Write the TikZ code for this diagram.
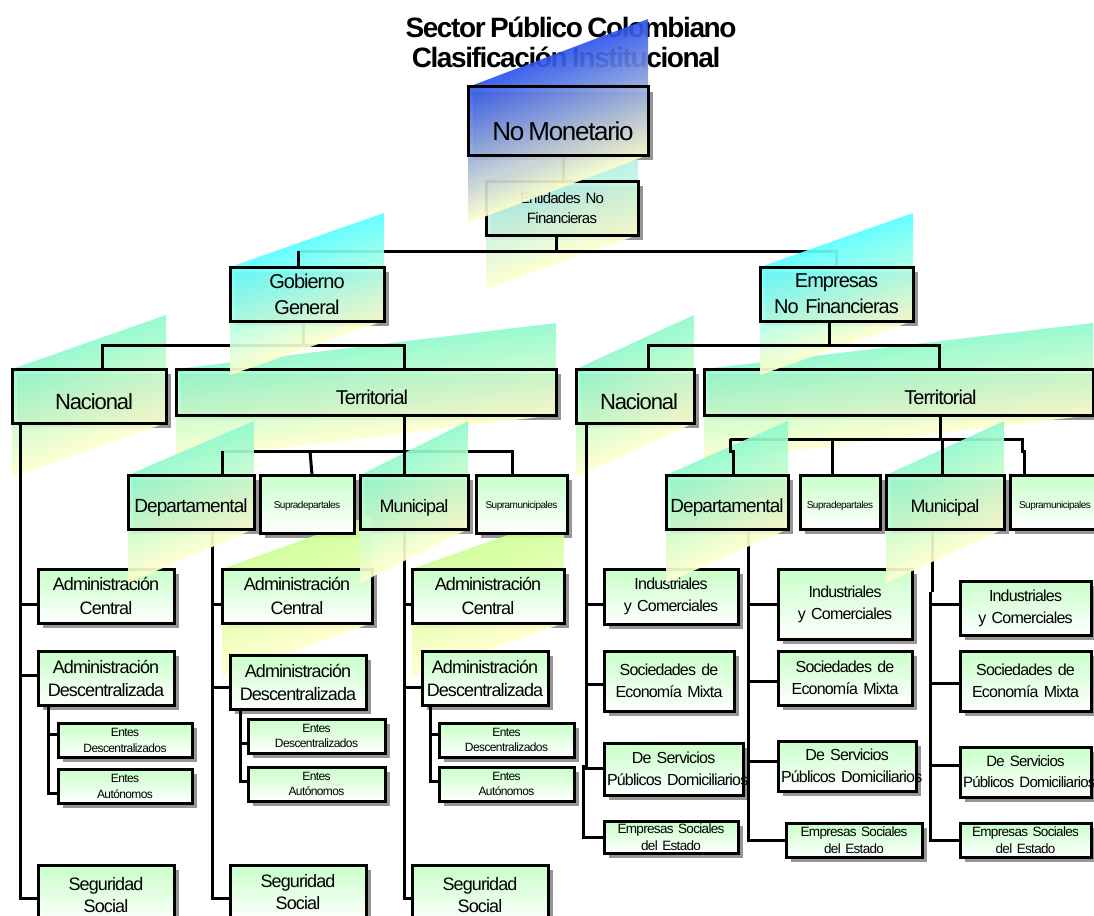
\documentclass[tikz,border=0pt]{standalone}
\usepackage{fontspec}
\setmainfont{Liberation Sans}[LetterSpace=-5,WordSpace=0.7]
\hyphenpenalty=10000
\exhyphenpenalty=10000

\definecolor{blueA}{RGB}{45,85,235}
\definecolor{paleY}{RGB}{255,255,205}
\definecolor{cyanA}{RGB}{90,255,255}
\definecolor{mintA}{RGB}{145,250,205}
\definecolor{limeA}{RGB}{205,255,150}
\definecolor{entA}{RGB}{150,235,240}
\definecolor{boxG}{RGB}{200,255,200}
\definecolor{shadowG}{RGB}{150,150,150}

\pgfdeclarelayer{bg}
\pgfdeclarelayer{low}
\pgfdeclarelayer{shadow}
\pgfdeclarelayer{para}
\pgfdeclarelayer{conn}
\pgfdeclarelayer{para2}
\pgfdeclarelayer{top}
\pgfsetlayers{bg,low,shadow,para,conn,main,para2,top}

\tikzset{
  frame/.style={draw=black, line width=3pt, line join=miter, inner sep=0pt,
    outer sep=0pt, align=center, text=black},
  openbox/.style={frame},
  lightbox/.style={frame, top color=boxG, bottom color=white},
  fs/.style 2 args={font=\fontsize{#1}{#2}\selectfont},
  lowtext/.style={text height=#1, text depth=0pt},
  wire/.style={draw=black, line width=3pt, line join=miter},
}

% box given by its corners (x0,y0) and (x1,y1)
\newcommand\orgbox[7]{%
  \node[#2, minimum width={#5-#3}, minimum height={#6-#4}, text width={#5-#3-6}]
    (#1) at ({(#3+#5)/2},{(#4+#6)/2}) {#7};}

% sheared gradient band behind a box: x0, y0 (top), x1, y1 (bottom), colours
\newcommand\gradpara[6]{%
  \pgfmathsetmacro\gpH{#4-#2}%
  \pgfmathsetmacro\gpK{\gpH/(#3-#1)}%
  \pgfmathsetmacro\gpS{-\gpK*#1}%
  \shade[transform canvas={cm={1,\gpK,0,1,(0pt,\gpS pt)}}, top color=#5,
    bottom color=#6, fill opacity=0.92] (#1,#2) rectangle (#3,{#2+2*\gpH});}

\begin{document}
\begin{tikzpicture}[x=1pt,y=-1pt]
\useasboundingbox (0,0) rectangle (1094,915);

% ---------- title ----------
\begin{pgfonlayer}{bg}
\node[anchor=base, font=\fontsize{28}{30}\selectfont\bfseries] (title1) at (571,38) {Sector Público Colombiano};
\node[anchor=base, font=\fontsize{28}{30}\selectfont\bfseries] (title2) at (566,68) {Clasificación Institucional};
\end{pgfonlayer}

% ---------- Entidades No Financieras ----------
\begin{pgfonlayer}{low}
\fill[shadowG] (491,186) rectangle (643,240);
\gradpara{486}{181}{638}{235}{entA}{paleY}
\orgbox{Ent}{openbox,fs={15}{20}}{486}{181}{638}{235}{\mbox{Entidades No}\\Financieras}
\end{pgfonlayer}

% ---------- boxes with a band in front of the lower row ----------
\begin{pgfonlayer}{top}
\node[openbox, fs={26}{30}, minimum width=180, minimum height=68, lowtext=38pt] (NoMon) at (558,121) {\hspace*{10pt}No Monetario};
\orgbox{Gob}{openbox,fs={20}{26}}{230}{267}{384}{321}{Gobierno\\General}
\orgbox{Emp}{openbox,fs={20}{26}}{760}{267}{913}{321}{Empresas\\\mbox{No Financieras}}
\orgbox{DepL}{openbox,fs={19}{24},lowtext=20pt}{128}{475}{254}{529}{Departamental}
\orgbox{MunL}{openbox,fs={18}{24},lowtext=20pt}{360}{475}{468}{529}{Municipal}
\orgbox{DepR}{openbox,fs={19}{24},lowtext=20pt}{666}{475}{788}{529}{Departamental}
\orgbox{MunR}{openbox,fs={18}{24},lowtext=20pt}{886}{475}{1004}{529}{Municipal}
\end{pgfonlayer}

% ---------- second level ----------
\orgbox{NacL}{openbox,fs={22}{26},lowtext=26pt}{12}{369}{166}{423}{\hspace*{10pt}Nacional}
\node[openbox, fs={20}{24}, minimum width=380, minimum height=46, lowtext=24pt] (TerL) at (366,392) {\hspace*{12pt}Territorial};
\orgbox{NacR}{openbox,fs={22}{26},lowtext=26pt}{576}{369}{694}{423}{\hspace*{8pt}Nacional}
\node[openbox, fs={20}{24}, minimum width=389, minimum height=46, lowtext=24pt] (TerR) at (898.5,392) {\hspace*{84pt}Territorial};

\orgbox{SupDL}{lightbox,fs={10}{12},lowtext=8pt}{260}{475}{354}{533}{Supradepartales}
\orgbox{SupML}{lightbox,fs={10}{12},lowtext=8pt}{476}{475}{567}{533}{Supramunicipales}
\orgbox{SupDR}{lightbox,fs={10}{12},lowtext=12pt}{800}{475}{880}{529}{Supradepartales}
\orgbox{SupMR}{lightbox,fs={10}{12},lowtext=12pt}{1010}{475}{1100}{529}{Supramunicipales}

% ---------- Gobierno General: lower boxes ----------
\orgbox{ACL}{lightbox,fs={18}{24}}{38}{569}{174}{623}{Administración\\Central}
\orgbox{ADL}{lightbox,fs={18}{23}}{38}{651}{174}{705}{Administración\\Descentralizada}
\orgbox{EDL}{lightbox,fs={12}{16}}{58}{723}{192}{757}{Entes\\Descentralizados}
\orgbox{EAL}{lightbox,fs={12}{16}}{58}{769}{192}{803}{Entes\\Autónomos}
\orgbox{SSL}{lightbox,fs={18}{22}}{38}{865}{174}{925}{Seguridad\\Social}

\orgbox{ACM}{lightbox,fs={18}{24}}{222}{569}{372}{623}{Administración\\Central}
\orgbox{ADM}{lightbox,fs={18}{23}}{230}{655}{366}{709}{Administración\\Descentralizada}
\orgbox{EDM}{lightbox,fs={12}{15}}{248}{719}{385}{753}{Entes\\Descentralizados}
\orgbox{EAM}{lightbox,fs={12}{15}}{248}{767}{385}{801}{Entes\\Autónomos}
\orgbox{SSM}{lightbox,fs={18}{22}}{230}{865}{366}{920}{Seguridad\\Social}

\orgbox{ACR}{lightbox,fs={18}{24}}{412}{569}{564}{623}{Administración\\Central}
\orgbox{ADR}{lightbox,fs={18}{23}}{422}{651}{548}{705}{Administración\\Descentralizada}
\orgbox{EDR}{lightbox,fs={12}{15}}{439}{723}{574}{757}{Entes\\Descentralizados}
\orgbox{EAR}{lightbox,fs={12}{15}}{439}{767}{574}{801}{Entes\\Autónomos}
\orgbox{SSR}{lightbox,fs={18}{22}}{412}{865}{548}{925}{Seguridad\\Social}

% ---------- Empresas No Financieras: lower boxes ----------
\orgbox{IL}{lightbox,fs={16}{22}}{604}{569}{738}{624}{Industriales\\\mbox{y Comerciales}}
\orgbox{SL}{lightbox,fs={16}{22}}{604}{651}{734}{711}{\mbox{Sociedades de}\\\mbox{Economía Mixta}}
\orgbox{DL}{lightbox,fs={16}{22}}{604}{743}{743}{795}{\mbox{De Servicios}\\\mbox{Públicos Domiciliarios}}
\orgbox{EL}{lightbox,fs={13.5}{17}}{604}{821}{738}{853}{\mbox{Empresas Sociales}\\\mbox{del Estado}}

\orgbox{IM}{lightbox,fs={16}{22}}{778}{569}{912}{639}{Industriales\\\mbox{y Comerciales}}
\orgbox{SM}{lightbox,fs={16}{22}}{778}{651}{912}{705}{\mbox{Sociedades de}\\\mbox{Economía Mixta}}
\orgbox{DM}{lightbox,fs={16}{22}}{778}{741}{916}{791}{\mbox{De Servicios}\\\mbox{Públicos Domiciliarios}}
\orgbox{EM}{lightbox,fs={13.5}{17}}{786}{823}{922}{857}{\mbox{Empresas Sociales}\\\mbox{del Estado}}

\orgbox{IR}{lightbox,fs={16}{22}}{960}{581}{1091}{635}{Industriales\\\mbox{y Comerciales}}
\orgbox{SR}{lightbox,fs={16}{22}}{960}{651}{1091}{711}{\mbox{Sociedades de}\\\mbox{Economía Mixta}}
\orgbox{DR}{lightbox,fs={15}{21}}{960}{747}{1091}{797}{\mbox{De Servicios}\\\mbox{Públicos Domiciliarios}}
\orgbox{ER}{lightbox,fs={13.5}{17}}{960}{823}{1091}{857}{\mbox{Empresas Sociales}\\\mbox{del Estado}}

% ---------- shadows ----------
\begin{pgfonlayer}{shadow}
\foreach \n in {NoMon,Gob,Emp,NacL,TerL,NacR,TerR,DepL,SupDL,MunL,SupML,DepR,SupDR,MunR,SupMR,
  ACL,ADL,EDL,EAL,SSL,ACM,ADM,EDM,EAM,SSM,ACR,ADR,EDR,EAR,SSR,IL,SL,DL,EL,IM,SM,DM,EM,IR,SR,DR,ER}
  \fill[shadowG] ([shift={(5,5)}]\n.north west) rectangle ([shift={(5,5)}]\n.south east);
\end{pgfonlayer}

% ---------- connector points ----------
\coordinate (nm) at (563,170);
\coordinate (bE) at (556,251);
\coordinate (bL) at (298,251);
\coordinate (bR) at (836,251);
\coordinate (gM) at (303,345);
\coordinate (gL) at (102,345);
\coordinate (gR) at (404,345);
\coordinate (xM) at (829,345);
\coordinate (xL) at (648,345);
\coordinate (xR) at (939,345);
\coordinate (tL) at (222,451);
\coordinate (tM) at (404,451);
\coordinate (tR) at (512,451);
\coordinate (tS) at (310,451);
\coordinate (tS2) at (312,470);
\coordinate (uL) at (730,439);
\coordinate (uL2) at (730,451);
\coordinate (uL3) at (733,451);
\coordinate (uM) at (940,439);
\coordinate (uN) at (942,439);
\coordinate (uS) at (832,439);
\coordinate (uR) at (1022,439);
\coordinate (uR2) at (1022,451);
\coordinate (uR3) at (1024,451);

% ---------- connectors ----------
\begin{pgfonlayer}{conn}
\draw[wire] (nm |- NoMon.south) -- (nm |- Ent.north);
\draw[wire] (bE |- Ent.south) -- (bE);
\draw[wire] (bL) -- (bR) -- (bR |- Emp.north);
\draw[wire] (gM |- Gob.south) -- (gM);
\draw[wire] (gL |- NacL.north) -- (gL) -- (gR) -- (gR |- TerL.north);
\draw[wire] (tM |- TerL.south) -- (tM);
\draw[wire] (tL) -- (tR) -- (tR |- SupML.north);
\draw[wire] (tS) -- (tS2 |- SupDL.north);
\draw[wire] (uM |- TerR.south) -- (uM);
\draw[wire] (uL) -- (uR) -- (uR2) -- (uR3) -- (uR3 |- SupMR.north);
\draw[wire] (uS) -- (uS |- SupDR.north);

% Gobierno General, Nacional
\coordinate (a1) at (20,604); \coordinate (a2) at (20,675); \coordinate (a3) at (20,898);
\coordinate (a4) at (48,734); \coordinate (a5) at (48,793);
\draw[wire] (a1 |- NacL.south) -- (a3) -- (a3 -| SSL.west);
\draw[wire] (a1) -- (a1 -| ACL.west);
\draw[wire] (a2) -- (a2 -| ADL.west);
\draw[wire] (a4 |- ADL.south) -- (a5) -- (a5 -| EAL.west);
\draw[wire] (a4) -- (a4 -| EDL.west);

% Gobierno General, Departamental
\coordinate (c1) at (212,604); \coordinate (c2) at (212,687); \coordinate (c3) at (212,898);
\coordinate (c4) at (240,743); \coordinate (c5) at (240,781);
\draw[wire] (c1 |- DepL.south) -- (c3) -- (c3 -| SSM.west);
\draw[wire] (c1) -- (c1 -| ACM.west);
\draw[wire] (c2) -- (c2 -| ADM.west);
\draw[wire] (c4 |- ADM.south) -- (c5) -- (c5 -| EAM.west);
\draw[wire] (c4) -- (c4 -| EDM.west);

% Gobierno General, Municipal
\coordinate (d1) at (404,604); \coordinate (d2) at (404,687); \coordinate (d3) at (404,898);
\coordinate (d4) at (430,734); \coordinate (d5) at (430,781);
\draw[wire] (d1 |- MunL.south) -- (d3) -- (d3 -| SSR.west);
\draw[wire] (d1) -- (d1 -| ACR.west);
\draw[wire] (d2) -- (d2 -| ADR.west);
\draw[wire] (d4 |- ADR.south) -- (d5) -- (d5 -| EAR.west);
\draw[wire] (d4) -- (d4 -| EDR.west);

% Empresas, Nacional
\coordinate (e1) at (586,604); \coordinate (e2) at (586,684); \coordinate (e3) at (586,768);
\coordinate (e4) at (583,765); \coordinate (e5) at (583,837);
\draw[wire] (e1 |- NacR.south) -- (e3) -- (e3 -| DL.west);
\draw[wire] (e4) -- (e5) -- (e5 -| EL.west);
\draw[wire] (e1) -- (e1 -| IL.west);
\draw[wire] (e2) -- (e2 -| SL.west);

% Empresas, Departamental
\coordinate (f1) at (748,604); \coordinate (f2) at (748,681); \coordinate (f3) at (748,761);
\coordinate (f4) at (748,840);
\draw[wire] (f1 |- DepR.south) -- (f4) -- (f4 -| EM.west);
\draw[wire] (f1) -- (f1 -| IM.west);
\draw[wire] (f2) -- (f2 -| SM.west);
\draw[wire] (f3) -- (f3 -| DM.west);

% Empresas, Municipal
\coordinate (m0) at (932,592); \coordinate (m5) at (930,592);
\coordinate (m1) at (930,604); \coordinate (m2) at (930,683); \coordinate (m3) at (930,765);
\coordinate (m4) at (930,840);
\draw[wire] (m0 |- MunR.south) -- (m0);
\draw[wire] (m5) -- (m4) -- (m4 -| ER.west);
\draw[wire] (m1) -- (m1 -| IR.west);
\draw[wire] (m2) -- (m2 -| SR.west);
\draw[wire] (m3) -- (m3 -| DR.west);
\end{pgfonlayer}

\begin{pgfonlayer}{top}
\draw[wire] (bL) -- (bL |- Gob.north);
\draw[wire] (xM |- Emp.south) -- (xM);
\draw[wire] (xL |- NacR.north) -- (xL) -- (xR) -- (xR |- TerR.north);
\draw[wire] (tL) -- (tL |- DepL.north);
\draw[wire] (tM) -- (tM |- MunL.north);
\draw[wire] (uL) -- (uL2) -- (uL3) -- (uL3 |- DepR.north);
\draw[wire] (uN) -- (uN |- MunR.north);
\end{pgfonlayer}

% ---------- gradient bands ----------
\begin{pgfonlayer}{para}
\gradpara{12}{369}{166}{423}{mintA}{paleY}
\gradpara{176}{369}{556}{415}{mintA}{paleY}
\gradpara{576}{369}{694}{423}{mintA}{paleY}
\gradpara{704}{369}{1093}{415}{mintA}{paleY}
\gradpara{222}{569}{372}{623}{limeA}{paleY}
\gradpara{412}{569}{564}{623}{limeA}{paleY}
\end{pgfonlayer}
\begin{pgfonlayer}{para2}
\gradpara{468}{87}{648}{155}{blueA}{paleY}
\gradpara{230}{267}{384}{321}{cyanA}{paleY}
\gradpara{760}{267}{913}{321}{cyanA}{paleY}
\gradpara{128}{475}{254}{529}{mintA}{paleY}
\gradpara{360}{475}{468}{529}{mintA}{paleY}
\gradpara{666}{475}{788}{529}{mintA}{paleY}
\gradpara{886}{475}{1004}{529}{mintA}{paleY}
\end{pgfonlayer}
\end{tikzpicture}
\end{document}
